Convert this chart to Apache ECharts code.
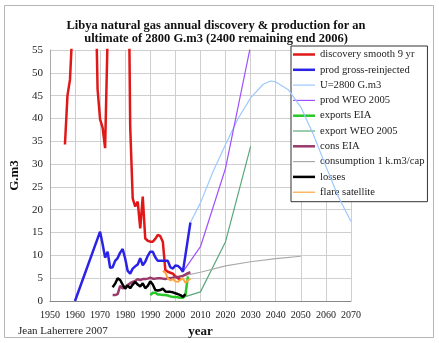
<!DOCTYPE html>
<html><head><meta charset="utf-8">
<script src="https://cdn.jsdelivr.net/npm/echarts@6/dist/echarts.min.js"></script>
<style>html,body{margin:0;padding:0;background:#fff}#c{width:439px;height:343px}</style>
</head><body><div id="c"></div>
<script>
// ---- data ----
const titleLines = ["Libya natural gas annual discovery & production for an", "ultimate of 2800 G.m3 (2400 remaining end 2006)"];
const xTicks = [1950, 2070, 10];
const yTicks = [0, 55, 5];
const seriesNames = ["discovery smooth 9 yr","prod gross-reinjected","U=2800 G.m3","prod WEO 2005","exports EIA","export WEO 2005","cons EIA","consumption 1 k.m3/cap","losses","flare satellite"];

const discovery = [[1956,34.3],[1957,45],[1958,48.5],[1959,60],[1960,80],[1961,90],[1962,95],[1963,95],[1964,90],[1965,88],[1966,85],[1967,80],[1968,75],[1969,46.4],[1970,39.8],[1971,38],[1972,33.5],[1973,58],[1974,80],[1975,90],[1976,95],[1977,95],[1978,90],[1979,85],[1980,88],[1981,94],[1982,38.3],[1983,22.5],[1984,20.7],[1985,21.8],[1986,15.9],[1987,22.9],[1988,13.7],[1989,13.2],[1990,13.0],[1991,13.0],[1992,13.6],[1993,14.5],[1994,14.2],[1995,13.0],[1996,6.8],[1997,6.4],[1998,6.2],[1999,6.0],[2000,5.4],[2001,5.0],[2002,4.7]];
const prodGross = [[1960,0],[1970,15.2],[1971,12.5],[1972,9.5],[1973,10.8],[1974,7.3],[1975,7.4],[1976,8.8],[1977,9.4],[1978,10.6],[1979,11.4],[1980,9.3],[1981,6.6],[1982,6.0],[1983,7.1],[1984,7.6],[1985,8.0],[1986,9.4],[1987,7.8],[1988,8.6],[1989,9.9],[1990,10.8],[1991,10.8],[1992,9.6],[1993,8.8],[1994,8.8],[1995,8.8],[1996,8.8],[1997,8.8],[1998,7.4],[1999,7.1],[2000,7.8],[2001,7.7],[2002,7.2],[2003,6.4],[2004,10.0],[2005,13.6],[2006,17.2]];
const ultimate = [[2006,17.2],[2010,21.5],[2015,28.3],[2020,34.3],[2025,40.0],[2030,44.5],[2035,47.5],[2038,48.2],[2040,48.0],[2045,46.3],[2050,42.5],[2055,36.5],[2060,29.5],[2065,22.8],[2070,17.4]];
const prodWEO = [[2003,6.4],[2010,11.9],[2020,29.1],[2030,56]];
const exportsEIA = [[1990,1.3],[1991,1.8],[1992,1.8],[1993,1.4],[1994,1.4],[1995,1.3],[1996,1.3],[1997,1.2],[1998,1.0],[1999,0.9],[2000,0.9],[2001,0.8],[2002,0.7],[2003,0.7],[2004,1.3],[2005,5.4]];
const exportWEO = [[2003,0.8],[2010,2.0],[2020,13.0],[2030,33.9]];
const consEIA = [[1975,1.3],[1976,1.3],[1977,1.5],[1978,3.3],[1979,2.8],[1980,3.0],[1981,3.5],[1982,3.9],[1983,4.2],[1984,4.4],[1985,4.8],[1986,4.6],[1987,4.8],[1988,4.8],[1989,4.9],[1990,5.1],[1991,4.9],[1992,4.9],[1993,5.0],[1994,5.0],[1995,4.9],[1996,4.8],[1997,5.0],[1998,5.0],[1999,5.1],[2000,5.3],[2001,5.2],[2002,5.4],[2003,5.5],[2004,5.8],[2005,6.1],[2006,6.3]];
const consumptionCap = [[2003,5.5],[2010,6.3],[2020,7.7],[2030,8.6],[2040,9.3],[2050,9.8]];
const losses = [[1975,3.0],[1976,3.8],[1977,5.0],[1978,4.6],[1979,3.6],[1980,2.7],[1981,3.4],[1982,2.8],[1983,3.6],[1984,4.2],[1985,3.6],[1986,3.2],[1987,3.9],[1988,2.8],[1989,3.3],[1990,4.3],[1991,3.6],[1992,2.4],[1993,2.3],[1994,2.4],[1995,2.7],[1996,2.1],[1997,2.0],[1998,2.0],[1999,1.9],[2000,1.7],[2001,1.5],[2002,1.3],[2003,0.9],[2004,1.5]];
const flare = [[1995,6.6],[1996,6.2],[1997,5.0],[1998,4.5],[1999,4.8],[2000,4.3],[2001,4.2],[2002,4.6],[2003,5.0],[2004,4.0],[2005,4.5],[2006,4.9]];

const seriesData = [discovery, prodGross, ultimate, prodWEO, exportsEIA, exportWEO, consEIA, consumptionCap, losses, flare];
const colors = ["#e01818","#2a22e6","#9cc8ff","#a050ff","#28c828","#5aa87a","#9a3a6a","#aaaaaa","#000000","#ffa640"];
const widths = [2.5,2.5,1.2,1.2,2.5,1.2,2.5,1.2,2.5,2];

const serif = "'Liberation Serif','DejaVu Serif',serif";
const chart = echarts.init(document.getElementById('c'), null, {renderer:'canvas'});
chart.setOption({
  animation:false,
  backgroundColor:'#fff',
  title:{text:titleLines.join('\n'), left:211, textAlign:'center', top:14,
    textStyle:{fontFamily:serif, fontSize:12.5, fontWeight:'bold', color:'#111', lineHeight:13.5}},
  grid:{left:36, right:88, top:50, bottom:42},
  xAxis:{type:'value', min:xTicks[0], max:xTicks[1], interval:xTicks[2],
    name:'year', nameLocation:'middle', nameGap:21,
    nameTextStyle:{fontFamily:serif, fontWeight:'bold', fontSize:13, color:'#111'},
    axisLine:{lineStyle:{color:'#888'}}, axisTick:{show:false},
    axisLabel:{fontFamily:serif, fontSize:10, color:'#222', margin:9, formatter:v=>String(v)},
    splitLine:{show:true, lineStyle:{color:'#cfcfcf'}}},
  yAxis:{type:'value', min:yTicks[0], max:yTicks[1], interval:yTicks[2],
    name:'G.m3', nameLocation:'middle', nameGap:20,
    nameTextStyle:{fontFamily:serif, fontWeight:'bold', fontSize:13, color:'#111'},
    axisLine:{show:true, lineStyle:{color:'#aaa'}}, axisTick:{show:false},
    axisLabel:{fontFamily:serif, fontSize:11, color:'#222', margin:7},
    splitLine:{show:true, lineStyle:{color:'#cfcfcf'}}},
  legend:{orient:'vertical', left:291, top:46, padding:[3,3,4,2], itemGap:4.3,
    itemWidth:22, itemHeight:10, symbolKeepAspect:true,
    backgroundColor:'#fff', borderColor:'#333', borderWidth:1,
    textStyle:{fontFamily:serif, fontSize:10.6, color:'#222'},
    data:seriesNames.map((n,i)=>({name:n,
      icon: widths[i] > 2 ? 'path://M0,0H44V5H0Z' : 'path://M0,0H44V2.4H0Z'}))},
  graphic:[
    {type:'rect', shape:{x:4.5, y:5.5, width:429, height:332}, style:{fill:null, stroke:'#b5b5b5', lineWidth:1}, z:-1},
    {type:'text', left:18, top:326, style:{text:'Jean Laherrere 2007', font:"11px "+serif, fill:'#222'}}
  ],
  series: seriesNames.map((n,i)=>({
    name:n, type:'line', data:seriesData[i], symbol:'none', clip:true,
    lineStyle:{color:colors[i], width:widths[i]}, itemStyle:{color:colors[i]},
    z: 10 - (i===2||i===3||i===5||i===7 ? 5 : 0)
  }))
});
</script></body></html>
